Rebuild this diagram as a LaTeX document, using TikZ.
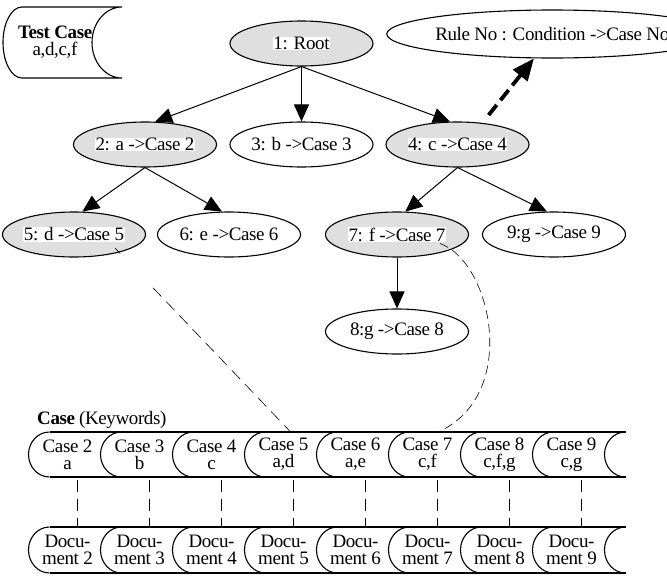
\documentclass[tikz,border=0pt]{standalone}
\usepackage{fontspec}
\setmainfont{Liberation Serif}[LetterSpace=-2]
\usetikzlibrary{arrows.meta,shapes.geometric,calc}
\newcommand\wbox[1]{{\setlength{\fboxsep}{0.5pt}\colorbox{white}{#1}}}
\begin{document}
\begin{tikzpicture}[x=1pt,y=-1pt,
  font=\fontsize{19pt}{17pt}\selectfont,
  tnode/.style={ellipse, draw, line width=1.1pt, minimum width=143pt, minimum height=45pt, inner sep=0pt},
  gnode/.style={tnode, fill=gray!25},
  tedge/.style={line width=1pt, -{Triangle[length=17pt,width=15pt]}},
  celltext/.style={align=center, inner sep=0pt, minimum height=45pt, minimum width=40pt},
  link/.style={line width=0.6pt, dash pattern=on 12pt off 7pt},
  shapeline/.style={line width=1.1pt}
]
\clip (0,0) rectangle (667,584);

% Test case shape
\draw[shapeline] (22,7) .. controls (11.5,7) and (3,22.9) .. (3,42.5)
  .. controls (3,62.1) and (11.5,78) .. (22,78) -- (122,78)
  .. controls (105.4,78) and (92,62.1) .. (92,42.5)
  .. controls (92,22.9) and (105.4,7) .. (122,7) -- cycle;
\node[align=center, inner sep=0pt] (tc) at (55,42) {\textbf{Test Case}\\a,d,c,f};

% tree nodes
\node[gnode] (root) at (301.5,43.5) {\wbox{1: Root}};
\node[tnode, minimum width=265pt, minimum height=48pt] (rule) at (552.3,34) {Rule No : Condition ->Case No};
\node[gnode] (n2) at (145,144.5) {\wbox{2: a ->Case 2}};
\node[tnode] (n3) at (301.5,144.5) {3: b ->Case 3};
\node[gnode] (n4) at (457.5,144.5) {\wbox{4: c ->Case 4}};
\node[gnode] (n5) at (74,234.5) {\wbox{5: d ->Case 5}};
\node[tnode] (n6) at (229,234.5) {6: e ->Case 6};
\node[gnode] (n7) at (397,234.5) {\wbox{7: f ->Case 7}};
\node[tnode] (n9) at (554,234.5) {9:g ->Case 9};
\node[tnode] (n8) at (397,331.5) {8:g ->Case 8};

% tree edges
\draw[tedge] (root.south) -- (n2.66);
\draw[tedge] (root.south) -- (n3.north);
\draw[tedge] (root.south) -- (n4.108);
\draw[tedge] (n2.south) -- (n5.70);
\draw[tedge] (n2.south) -- (n6.107);
\draw[tedge] (n4.south) -- (n7.70);
\draw[tedge] (n4.south) -- (n9.107);
\draw[tedge] (n7.south) -- (n8.north);
\draw[line width=3.8pt, dash pattern=on 13pt off 6pt, shorten <=10pt,
  -{Triangle[length=22pt,width=18pt]}] (n4.41) -- (rule.233);

% case and document rows
\foreach \k in {0,...,8} {
  \pgfmathsetmacro\L{28.5+72*\k}
  \draw[shapeline] (\L+21,432) .. controls (\L+9.4,432) and (\L,442.1) .. (\L,454.5)
    .. controls (\L,466.9) and (\L+9.4,477) .. (\L+21,477);
  \draw[shapeline] (\L+21,527) .. controls (\L+9.4,527) and (\L,537.3) .. (\L,550)
    .. controls (\L,562.7) and (\L+9.4,573) .. (\L+21,573);
}
\draw[shapeline] (49.5,432) -- (625.5,432);
\draw[shapeline] (49.5,477) -- (625.5,477);
\draw[shapeline] (49.5,527) -- (625.5,527);
\draw[shapeline] (49.5,573) -- (625.5,573);

\node[anchor=base west, inner sep=0pt] (kw) at (37,424) {\textbf{Case} (Keywords)};

\foreach \n/\kw [count=\k from 0] in {2/a, 3/b, 4/c, 5/{a,d}, 6/{a,e}, 7/{c,f}, 8/{c,f,g}, 9/{c,g}} {
  \node[celltext] (c\n) at (67.5+72*\k,454.5) {Case \n\\\kw};
  \node[celltext] (d\n) at (67.5+72*\k,550) {Docu-\\ment \n};
  \draw[link] ($(c\n.south)+(9.5,3)$) -- ($(d\n.north)+(9.5,0)$);
}

% links from tree to cases
\coordinate (s5) at ($(n5.center)+(41,13.5)$);
\coordinate (e5) at ($(c5.north)+(7,0)$);
\draw[line width=0.6pt] (s5) -- ($(s5)!0.03!(e5)$);
\draw[link] ($(s5)!0.217!(e5)$) -- (e5);
\draw[line width=0.6pt, dash pattern=on 9pt off 5pt]
  ($(n7.center)+(43,9)$) .. controls (492,262) and (520,395) .. ($(c7.north)+(11,0)$);
\end{tikzpicture}
\end{document}
